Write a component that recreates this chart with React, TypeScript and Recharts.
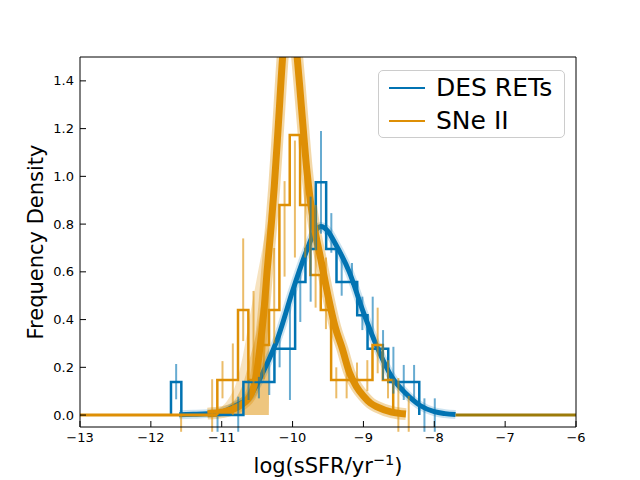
import React from "react";
import { ComposedChart, Line, Area, Scatter, ErrorBar, XAxis, YAxis } from "recharts";

const BLUE = "#0173B2";
const ORANGE = "#DE8F05";
const OLIVE = "#9C7B0A";
const FONT = "DejaVu Sans";

// axis ticks
const xMajorTicks = [-13, -12, -11, -10, -9, -8, -7, -6];
const xMinorTicks = [
  -12.75, -12.5, -12.25, -12, -11.75, -11.5, -11.25, -11, -10.75, -10.5, -10.25, -10,
  -9.75, -9.5, -9.25, -9, -8.75, -8.5, -8.25, -8, -7.75, -7.5, -7.25, -7, -6.75, -6.5, -6.25,
];
const yMajorTicks = [0, 0.2, 0.4, 0.6, 0.8, 1.0, 1.2, 1.4];
const yMinorTicks = [
  0, 0.05, 0.1, 0.15, 0.2, 0.25, 0.3, 0.35, 0.4, 0.45, 0.5, 0.55, 0.6, 0.65, 0.7, 0.75,
  0.8, 0.85, 0.9, 0.95, 1.0, 1.05, 1.1, 1.15, 1.2, 1.25, 1.3, 1.35, 1.4, 1.45,
];

// step histograms (bin edges + densities)
const desEdges = [
  -11.716, -11.57, -11.424, -11.278, -11.132, -10.986, -10.84, -10.694, -10.548, -10.402,
  -10.256, -10.11, -9.964, -9.818, -9.672, -9.526, -9.38, -9.234, -9.088, -8.942, -8.796,
  -8.65, -8.504, -8.358, -8.212,
];
const desHeights = [
  0.139, 0, 0, 0, 0, 0, 0, 0.139, 0.139, 0.139, 0.278, 0.278, 0.557, 0.696, 0.975, 0.696,
  0.557, 0.557, 0.418, 0.278, 0.278, 0.139, 0.139, 0.139,
];
const sneEdges = [
  -11.062, -10.916, -10.77, -10.624, -10.478, -10.332, -10.186, -10.04, -9.894, -9.748,
  -9.602, -9.456, -9.31, -9.164, -9.018, -8.872, -8.726, -8.58,
];
const sneHeights = [
  0.147, 0.147, 0.44, 0.147, 0.293, 0.44, 0.88, 1.173, 0.88, 0.587, 0.44, 0.147, 0.147,
  0.147, 0.147, 0.293, 0.147,
];

// error bars at bin centres
const desErrX = [
  -11.643, -11.059, -10.767, -10.621, -10.475, -10.329, -10.183, -10.037, -9.891, -9.745,
  -9.599, -9.453, -9.307, -9.161, -9.015, -8.869, -8.723, -8.577, -8.431, -8.285, -8.139, -7.993,
];
const desErrLo = [
  0.066, -0.07, -0.07, 0.063, 0.07, 0.084, 0.2, 0.063, 0.39, 0.475, 0.76, 0.68, 0.5, 0.545,
  0.356, 0.314, 0.147, 0.09, 0.063, 0.063, -0.07, -0.07,
];
const desErrHi = [
  0.214, -0.007, 0.077, 0.146, 0.16, 0.217, 0.356, 0.496, 0.6, 0.915, 1.19, 0.846, 0.68, 0.637,
  0.496, 0.496, 0.356, 0.286, 0.21, 0.21, 0.07, 0.07,
];
const sneErrX = [
  -11.573, -11.135, -10.989, -10.843, -10.697, -10.551, -10.405, -10.259, -10.113, -9.967,
  -9.821, -9.675, -9.529, -9.383, -9.237, -9.091, -8.945, -8.799, -8.653, -8.507, -8.361,
];
const sneErrLo = [
  -0.07, -0.07, 0.07, 0.0, 0.31, 0.12, 0.15, 0.3, 0.58, 0.66, 0.66, 0.45, 0.36, 0.07, 0.07,
  0.1, 0.1, 0.175, 0.07, -0.07, -0.07,
];
const sneErrHi = [
  0.0, 0.15, 0.226, 0.3, 0.74, 0.52, 0.45, 0.7, 0.98, 1.15, 1.11, 0.88, 0.66, 0.2, 0.22,
  0.22, 0.23, 0.45, 0.23, 0.155, 0.08,
];

// fitted curves
const desCurveX = [
  -11.6, -11.4, -11.2, -11.0, -10.8, -10.6, -10.4, -10.2, -10.0, -9.8, -9.7, -9.6, -9.5,
  -9.4, -9.2, -9.0, -8.8, -8.6, -8.4, -8.2, -8.0, -7.85, -7.7,
];
const desCurveY = [
  0.001, 0.003, 0.006, 0.013, 0.04, 0.08, 0.19, 0.33, 0.52, 0.69, 0.76, 0.79, 0.77, 0.72,
  0.6, 0.43, 0.28, 0.16, 0.09, 0.04, 0.014, 0.006, 0.002,
];
const sneCurveX = [
  -11.2, -11.0, -10.8, -10.6, -10.5, -10.47, -10.4, -10.36, -10.3, -10.26, -10.2, -10.14,
  -10.1, -10.05, -10.0, -9.95, -9.9, -9.85, -9.8, -9.75, -9.7, -9.6, -9.5, -9.4, -9.3, -9.2,
  -9.1, -9.0, -8.9, -8.8, -8.6, -8.4,
];
const sneCurveY = [
  0.006, 0.012, 0.03, 0.08, 0.19, 0.26, 0.45, 0.6, 0.8, 0.95, 1.22, 1.5, 1.63, 1.72, 1.7,
  1.55, 1.38, 1.2, 1.03, 0.9, 0.8, 0.65, 0.5, 0.37, 0.28, 0.18, 0.12, 0.08, 0.05, 0.033,
  0.012, 0.004,
];
// spread of the SNe II posterior draws (light fan on the low side)
const sneFanX = [
  -11.4, -11.2, -11.0, -10.9, -10.8, -10.7, -10.6, -10.5, -10.4, -10.33, -10.32, -10.26,
  -10.2, -10.14, -10.08,
];
const sneFanLo = [0, 0, 0, 0, 0, 0, 0, 0, 0, 0, 0.82, 0.95, 1.22, 1.5, 1.7];
const sneFanHi = [
  0.004, 0.012, 0.035, 0.07, 0.13, 0.25, 0.42, 0.58, 0.74, 0.86, 0.9, 1.1, 1.35, 1.6, 1.8,
];
const sneInnerLo = [0, 0, 0, 0, 0, 0, 0, 0, 0, 0, 0.82, 0.95, 1.22, 1.5, 1.7];
const sneInnerHi = [
  0.003, 0.008, 0.02, 0.04, 0.07, 0.13, 0.24, 0.36, 0.55, 0.72, 0.86, 1.0, 1.28, 1.55, 1.75,
];

const sneZeroX = [-13, -11.06];
const desTailX = [-7.7, -6];

const stepPoints = (edges: number[], heights: number[]) => {
  const pts = [{ x: edges[0], y: 0 }];
  heights.forEach((h, i) => pts.push({ x: edges[i], y: h }));
  pts.push({ x: edges[edges.length - 1], y: 0 });
  return pts;
};
const curvePoints = (xs: number[], ys: number[]) => xs.map((x, i) => ({ x, y: ys[i] }));
const bandPoints = (xs: number[], lo: number[], hi: number[]) =>
  xs.map((x, i) => ({ x, band: [lo[i], hi[i]] }));
const errPoints = (xs: number[], lo: number[], hi: number[]) =>
  xs.map((x, i) => ({ x, y: lo[i], err: [0, hi[i] - lo[i]] }));

const desStep = stepPoints(desEdges, desHeights);
const sneStep = stepPoints(sneEdges, sneHeights);
const desCurve = curvePoints(desCurveX, desCurveY);
const sneCurve = curvePoints(sneCurveX, sneCurveY);
const sneFan = bandPoints(sneFanX, sneFanLo, sneFanHi);
const sneInner = bandPoints(sneFanX, sneInnerLo, sneInnerHi);
const sneZero = sneZeroX.map((x) => ({ x, y: 0 }));
const desTail = desTailX.map((x) => ({ x, y: 0 }));
const desErr = errPoints(desErrX, desErrLo, desErrHi);
const sneErr = errPoints(sneErrX, sneErrLo, sneErrHi);

const tickFont = { fontSize: 13, fill: "#000", fontFamily: FONT };
const noShape = () => <g />;

const XTitle = (props: any) => {
  const vb = props.viewBox;
  return (
    <text x={vb.x + vb.width / 2} y={vb.y + 46} textAnchor="middle" fontFamily={FONT} fontSize={21} fill="#000">
      log(sSFR/yr
      <tspan dy={-8} fontSize={14.5}>
        −1
      </tspan>
      <tspan dy={8}>)</tspan>
    </text>
  );
};

const YTitle = (props: any) => {
  const vb = props.viewBox;
  const cy = vb.y + vb.height / 2;
  return (
    <text x={43} y={cy} transform={`rotate(-90, 43, ${cy})`} textAnchor="middle" fontFamily={FONT} fontSize={21} fill="#000">
      Frequency Density
    </text>
  );
};

const legendItems = [
  { label: "DES RETs", color: BLUE },
  { label: "SNe II", color: ORANGE },
];

export default function App() {
  return (
    <div style={{ position: "absolute", left: 0, top: 0, width: 640, height: 480, background: "#fff" }}>
      <ComposedChart width={640} height={480} margin={{ top: 56, right: 63, bottom: 23, left: 30 }}>
        <XAxis xAxisId="minB" type="number" dataKey="x" domain={[-13, -6]} allowDataOverflow mirror
          ticks={xMinorTicks} interval={0} tick={false} tickSize={3} axisLine={false} height={1} stroke="#000" />
        <XAxis type="number" dataKey="x" domain={[-13, -6]} allowDataOverflow ticks={xMajorTicks} interval={0}
          tickSize={-6} tickMargin={12} height={30} stroke="#000" tick={tickFont}
          tickFormatter={(v: number) => String(v).replace("-", "\u2212")} label={XTitle} />
        <XAxis xAxisId="top" orientation="top" type="number" dataKey="x" domain={[-13, -6]} allowDataOverflow
          ticks={xMajorTicks} interval={0} tick={false} tickSize={-6} height={1} stroke="#000" />
        <XAxis xAxisId="minT" orientation="top" type="number" dataKey="x" domain={[-13, -6]} allowDataOverflow mirror
          ticks={xMinorTicks} interval={0} tick={false} tickSize={3} axisLine={false} height={1} stroke="#000" />

        <YAxis yAxisId="minL" type="number" domain={[-0.05, 1.5]} allowDataOverflow mirror ticks={yMinorTicks}
          interval={0} tick={false} tickSize={3} axisLine={false} width={1} stroke="#000" />
        <YAxis type="number" domain={[-0.05, 1.5]} allowDataOverflow ticks={yMajorTicks} interval={0}
          tickSize={-6} tickMargin={12} width={50} stroke="#000" tick={tickFont}
          tickFormatter={(v: number) => v.toFixed(1)} label={YTitle} />
        <YAxis yAxisId="right" orientation="right" type="number" domain={[-0.05, 1.5]} allowDataOverflow
          ticks={yMajorTicks} interval={0} tick={false} tickSize={-6} width={1} stroke="#000" />
        <YAxis yAxisId="minR" orientation="right" type="number" domain={[-0.05, 1.5]} allowDataOverflow mirror
          ticks={yMinorTicks} interval={0} tick={false} tickSize={3} axisLine={false} width={1} stroke="#000" />

        <Line data={desCurve} dataKey="y" type="monotone" stroke={BLUE} strokeOpacity={0.2} strokeWidth={9}
          dot={false} activeDot={false} isAnimationActive={false} />
        <Line data={desCurve} dataKey="y" type="monotone" stroke={BLUE} strokeWidth={5}
          dot={false} activeDot={false} isAnimationActive={false} />
        <Area data={sneFan} dataKey="band" type="monotone" stroke="none" fill={ORANGE} fillOpacity={0.25}
          isAnimationActive={false} />
        <Area data={sneInner} dataKey="band" type="monotone" stroke="none" fill={ORANGE} fillOpacity={0.35}
          isAnimationActive={false} />
        <Line data={sneCurve} dataKey="y" type="monotone" stroke={ORANGE} strokeOpacity={0.35} strokeWidth={12}
          dot={false} activeDot={false} isAnimationActive={false} />
        <Line data={sneCurve} dataKey="y" type="monotone" stroke={ORANGE} strokeWidth={7}
          dot={false} activeDot={false} isAnimationActive={false} />
        <Line data={desTail} dataKey="y" type="linear" stroke={OLIVE} strokeWidth={3}
          dot={false} activeDot={false} isAnimationActive={false} />

        <Line data={desStep} dataKey="y" type="stepAfter" stroke={BLUE} strokeWidth={2.5}
          dot={false} activeDot={false} isAnimationActive={false} />
        <Line data={sneZero} dataKey="y" type="linear" stroke={ORANGE} strokeWidth={3}
          dot={false} activeDot={false} isAnimationActive={false} />
        <Line data={sneStep} dataKey="y" type="stepAfter" stroke={ORANGE} strokeWidth={2.5}
          dot={false} activeDot={false} isAnimationActive={false} />

        <Scatter data={desErr} dataKey="y" shape={noShape} isAnimationActive={false}>
          <ErrorBar dataKey="err" direction="y" width={0} stroke={BLUE} strokeOpacity={0.6} strokeWidth={2} />
        </Scatter>
        <Scatter data={sneErr} dataKey="y" shape={noShape} isAnimationActive={false}>
          <ErrorBar dataKey="err" direction="y" width={0} stroke={ORANGE} strokeOpacity={0.6} strokeWidth={2} />
        </Scatter>
      </ComposedChart>

      <div style={{ position: "absolute", left: 378, top: 70, width: 187, height: 68, boxSizing: "border-box",
        border: "1px solid #cccccc", borderRadius: 5, background: "rgba(255,255,255,0.8)",
        fontFamily: FONT, fontSize: 25, color: "#000" }}>
        {legendItems.map((item) => (
          <div key={item.label} style={{ height: 33, display: "flex", alignItems: "center" }}>
            <span style={{ display: "inline-block", width: 36, height: 0, borderTop: `2.5px solid ${item.color}`,
              marginLeft: 10, marginRight: 11 }} />
            <span style={{ lineHeight: 1 }}>{item.label}</span>
          </div>
        ))}
      </div>
    </div>
  );
}
